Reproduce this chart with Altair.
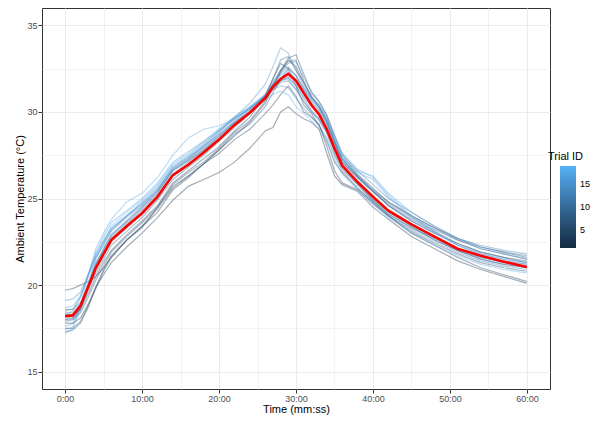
import altair as alt
import pandas as pd

time_min = [0, 1, 2, 3, 4, 5, 6, 8, 10, 12, 14, 16, 18, 20, 22, 24, 26, 27, 28, 29,
            30, 31, 32, 33, 34, 35, 36, 38, 40, 42, 45, 48, 51, 54, 57, 60]

mean_temp = [18.2, 18.25, 18.8, 19.9, 21.0, 21.8, 22.6, 23.4, 24.15, 25.1, 26.35, 26.95, 27.65, 28.4,
             29.25, 29.95, 30.8, 31.45, 31.9, 32.2, 31.8, 31.1, 30.4, 29.85, 29.0, 27.9, 26.9, 25.95,
             25.1, 24.3, 23.5, 22.8, 22.1, 21.7, 21.35, 21.05]

trial_01 = [17.8, 17.8, 18.1, 18.9, 19.9, 20.6, 21.3, 22.2, 23.0, 23.9, 24.9, 25.7, 26.1, 26.5, 27.1, 27.9, 28.9,
            29.1, 30.0, 30.3, 29.9, 29.6, 29.4, 29.0, 27.6, 26.3, 25.8, 25.4, 24.5, 23.8, 22.8, 22.1, 21.4, 20.9, 20.5, 20.1]
trial_02 = [19.7, 19.8, 20.0, 20.2, 20.5, 21.0, 21.6, 22.6, 23.4, 24.2, 25.5, 26.2, 27.0, 27.6, 28.4, 29.0, 29.9,
            30.4, 31.0, 31.5, 30.9, 30.0, 29.7, 29.3, 28.0, 26.6, 25.9, 25.5, 24.7, 24.0, 23.0, 22.3, 21.6, 21.0, 20.6, 20.2]
trial_03 = [17.5, 17.5, 17.9, 18.8, 19.8, 20.8, 21.6, 22.6, 23.4, 24.4, 25.6, 26.3, 27.0, 27.8, 28.6, 29.4, 30.5,
            31.4, 32.3, 33.0, 32.6, 31.7, 30.9, 30.3, 29.4, 28.3, 27.1, 26.2, 25.4, 24.6, 23.7, 23.0, 22.4, 21.9, 21.6, 21.3]
trial_04 = [18.3, 18.3, 18.6, 19.5, 20.5, 21.3, 22.0, 22.9, 23.7, 24.6, 25.9, 26.6, 27.3, 28.0, 28.9, 29.7, 30.9,
            31.9, 32.8, 32.5, 31.5, 30.4, 29.9, 29.2, 28.3, 27.1, 26.5, 25.6, 24.8, 24.0, 23.1, 22.4, 21.8, 21.3, 21.0, 20.8]
trial_05 = [18.0, 18.0, 18.4, 19.3, 20.3, 21.1, 21.9, 22.8, 23.6, 24.5, 25.8, 26.5, 27.1, 27.9, 28.8, 29.5, 30.6,
            31.5, 32.4, 33.1, 33.3, 32.2, 31.1, 30.6, 29.8, 28.6, 27.5, 26.4, 25.6, 24.8, 24.0, 23.3, 22.6, 22.1, 21.8, 21.5]
trial_06 = [17.3, 17.4, 17.8, 18.7, 19.9, 20.9, 21.7, 22.6, 23.3, 24.5, 25.7, 26.3, 27.0, 27.8, 28.7, 29.3, 30.3,
            31.1, 31.9, 32.5, 32.1, 31.2, 30.5, 29.9, 29.0, 27.8, 26.9, 25.9, 25.0, 24.2, 23.4, 22.6, 22.0, 21.5, 21.2, 21.0]
trial_07 = [18.6, 18.6, 19.0, 19.8, 20.7, 21.5, 22.3, 23.1, 23.9, 24.9, 26.1, 26.8, 27.5, 28.3, 29.1, 29.9, 31.0,
            31.9, 33.0, 33.2, 32.4, 31.7, 30.9, 30.4, 29.6, 28.3, 27.3, 26.3, 25.5, 24.8, 24.0, 23.3, 22.7, 22.2, 21.9, 21.6]
trial_08 = [18.1, 18.1, 18.6, 19.7, 20.9, 21.7, 22.5, 23.3, 24.1, 25.0, 26.3, 26.9, 27.6, 28.4, 29.2, 29.9, 30.7,
            31.3, 31.8, 32.0, 31.5, 30.8, 30.1, 29.6, 28.8, 27.6, 26.7, 25.8, 24.9, 24.1, 23.3, 22.7, 22.0, 21.6, 21.4, 21.2]
trial_09 = [18.4, 18.4, 18.9, 20.0, 21.1, 21.9, 22.7, 23.5, 24.3, 25.2, 26.4, 27.1, 27.8, 28.5, 29.3, 30.0, 30.9,
            31.7, 32.4, 32.9, 33.0, 31.8, 30.8, 30.2, 29.4, 28.2, 27.2, 26.3, 25.4, 24.6, 23.8, 23.1, 22.4, 21.9, 21.6, 21.4]
trial_10 = [18.0, 18.1, 18.7, 19.9, 21.2, 22.0, 22.8, 23.6, 24.4, 25.3, 26.6, 27.2, 27.8, 28.6, 29.4, 30.1, 30.9,
            31.6, 32.2, 32.6, 32.1, 31.4, 30.6, 30.1, 29.2, 28.1, 27.1, 26.2, 25.4, 24.7, 23.9, 23.2, 22.6, 22.2, 21.9, 21.7]
trial_11 = [17.9, 18.0, 18.6, 19.9, 21.2, 22.1, 22.9, 23.7, 24.5, 25.4, 26.6, 27.2, 27.9, 28.6, 29.4, 30.0, 30.8,
            31.3, 31.7, 31.8, 31.3, 30.6, 30.0, 29.5, 28.8, 27.8, 26.8, 25.8, 24.9, 24.1, 23.3, 22.6, 22.0, 21.5, 21.2, 21.0]
trial_12 = [18.5, 18.6, 19.3, 20.5, 21.6, 22.3, 23.1, 23.9, 24.6, 25.5, 26.7, 27.3, 28.0, 28.7, 29.5, 30.2, 30.9,
            31.6, 32.3, 32.8, 32.9, 32.0, 31.2, 30.6, 29.8, 28.7, 27.6, 26.6, 25.8, 25.0, 24.2, 23.4, 22.7, 22.3, 22.0, 21.8]
trial_13 = [19.1, 19.2, 19.6, 20.6, 21.7, 22.5, 23.2, 24.0, 24.7, 25.5, 26.8, 27.4, 28.1, 28.9, 29.6, 30.2, 30.9,
            31.3, 31.5, 31.4, 30.8, 30.2, 29.7, 29.2, 28.5, 27.5, 26.6, 25.6, 24.8, 24.0, 23.2, 22.5, 21.9, 21.4, 21.1, 20.9]
trial_14 = [18.2, 18.3, 18.9, 20.1, 21.3, 22.1, 22.9, 23.7, 24.5, 25.4, 26.7, 27.3, 28.0, 28.8, 29.7, 30.5, 31.6,
            32.6, 33.7, 33.4, 32.4, 31.5, 30.8, 30.3, 29.5, 28.4, 27.3, 26.3, 25.5, 24.6, 23.7, 23.0, 22.3, 21.8, 21.5, 21.3]
trial_15 = [17.6, 17.8, 18.6, 20.0, 21.5, 22.4, 23.2, 24.0, 24.8, 25.7, 26.9, 27.5, 28.2, 28.9, 29.6, 30.2, 30.9,
            31.4, 31.8, 31.9, 31.3, 30.6, 30.0, 29.6, 28.9, 27.9, 27.0, 26.0, 25.1, 24.3, 23.4, 22.7, 22.1, 21.6, 21.3, 21.1]
trial_16 = [18.3, 18.5, 19.3, 20.6, 21.9, 22.8, 23.6, 24.3, 25.0, 25.9, 27.1, 27.7, 28.3, 29.0, 29.7, 30.3, 31.0,
            31.5, 31.9, 32.3, 31.9, 31.3, 30.7, 30.3, 29.6, 28.5, 27.4, 26.6, 26.3, 25.3, 24.2, 23.4, 22.7, 22.1, 21.8, 21.5]
trial_17 = [17.2, 17.5, 18.8, 20.6, 22.1, 23.0, 23.8, 24.8, 25.3, 26.2, 27.5, 28.5, 29.0, 29.2, 29.6, 30.2, 30.9,
            31.4, 31.8, 32.0, 31.6, 30.9, 30.4, 30.0, 29.3, 28.3, 27.3, 26.5, 26.1, 25.1, 23.9, 23.1, 22.3, 21.8, 21.5, 21.2]
trial_18 = [18.7, 18.8, 19.4, 20.6, 21.8, 22.6, 23.3, 24.0, 24.7, 25.6, 26.8, 27.4, 28.0, 28.7, 29.4, 30.0, 30.7,
            31.0, 31.2, 31.0, 30.3, 29.9, 29.5, 29.0, 28.3, 27.3, 26.4, 25.5, 24.7, 23.9, 23.0, 22.3, 21.7, 21.2, 20.9, 20.7]
trial_19 = [17.4, 17.6, 18.5, 20.1, 21.6, 22.5, 23.4, 24.2, 24.9, 25.8, 27.0, 27.6, 28.3, 29.0, 29.7, 30.3, 31.0,
            31.6, 32.1, 32.4, 31.9, 31.3, 30.8, 30.4, 29.6, 28.6, 27.6, 26.7, 26.2, 25.2, 24.0, 23.1, 22.3, 21.7, 21.3, 21.0]

trials = [trial_01, trial_02, trial_03, trial_04, trial_05, trial_06, trial_07, trial_08, trial_09, trial_10,
          trial_11, trial_12, trial_13, trial_14, trial_15, trial_16, trial_17, trial_18, trial_19]

rows = []
for i, series in enumerate(trials, start=1):
    for t, v in zip(time_min, series):
        rows.append({"trial": i, "t": t, "temp": v})
df = pd.DataFrame(rows)
df_mean = pd.DataFrame({"t": time_min, "temp": mean_temp})

FONT = "Liberation Sans"
x_values = [0, 5, 10, 15, 20, 25, 30, 35, 40, 45, 50, 55, 60]
y_values = [15, 17.5, 20, 22.5, 25, 27.5, 30, 32.5, 35]

x_enc = alt.X(
    "t:Q",
    scale=alt.Scale(domain=[-3, 63], nice=False, zero=False),
    axis=alt.Axis(
        values=x_values,
        labelExpr="datum.value % 10 === 0 ? floor(datum.value) + ':00' : ''",
        tickColor={"condition": {"test": "datum.value % 10 !== 0", "value": "transparent"}, "value": "#333333"},
        gridWidth={"condition": {"test": "datum.value % 10 !== 0", "value": 0.6}, "value": 1},
        title="Time (mm:ss)",
    ),
)
y_enc = alt.Y(
    "temp:Q",
    scale=alt.Scale(domain=[14, 36], nice=False, zero=False),
    axis=alt.Axis(
        values=y_values,
        labelExpr="datum.value % 5 === 0 ? datum.value : ''",
        tickColor={"condition": {"test": "datum.value % 5 !== 0", "value": "transparent"}, "value": "#333333"},
        gridWidth={"condition": {"test": "datum.value % 5 !== 0", "value": 0.6}, "value": 1},
        title="Ambient Temperature (°C)",
    ),
)

lines = alt.Chart(df).mark_line(strokeWidth=1.2, strokeOpacity=0.38).encode(
    x=x_enc,
    y=y_enc,
    color=alt.Color(
        "trial:Q",
        scale=alt.Scale(domain=[1, 19], range=["#132B43", "#56B1F7"]),
        legend=alt.Legend(
            title=None,
            orient="none",
            legendX=518,
            legendY=158,
            direction="vertical",
            gradientLength=82,
            gradientThickness=16,
            gradientStrokeWidth=0,
            values=[5, 10, 15],
            labelFontSize=9,
            labelColor="#000000",
            labelFont=FONT,
            labelOffset=4,
        ),
    ),
    detail="trial:N",
)

mean_line = alt.Chart(df_mean).mark_line(color="#FF0000", strokeWidth=2.6).encode(
    x="t:Q", y="temp:Q"
)

legend_title = alt.Chart(pd.DataFrame({"label": ["Trial ID"]})).mark_text(
    align="left", baseline="middle", fontSize=11, font=FONT, color="#000000"
).encode(x=alt.value(506), y=alt.value(149), text="label:N")

chart = alt.layer(lines, mean_line, legend_title).properties(
    width=508,
    height=381,
    autosize=alt.AutoSizeParams(type="none"),
    padding={"left": 34, "top": 0, "right": 40, "bottom": 28},
).configure_view(
    stroke="#333333", strokeWidth=1
).configure_axis(
    domain=False,
    gridColor="#EBEBEB",
    tickSize=4,
    tickWidth=1,
    labelFont=FONT,
    labelFontSize=9,
    labelColor="#4D4D4D",
    labelPadding=1,
    titleFont=FONT,
    titleFontSize=11,
    titleFontWeight="normal",
    titleColor="#000000",
).configure_axisX(titlePadding=0).configure_axisY(titlePadding=1)

chart.save("out.html", embed_options={"renderer": "svg", "actions": False})
